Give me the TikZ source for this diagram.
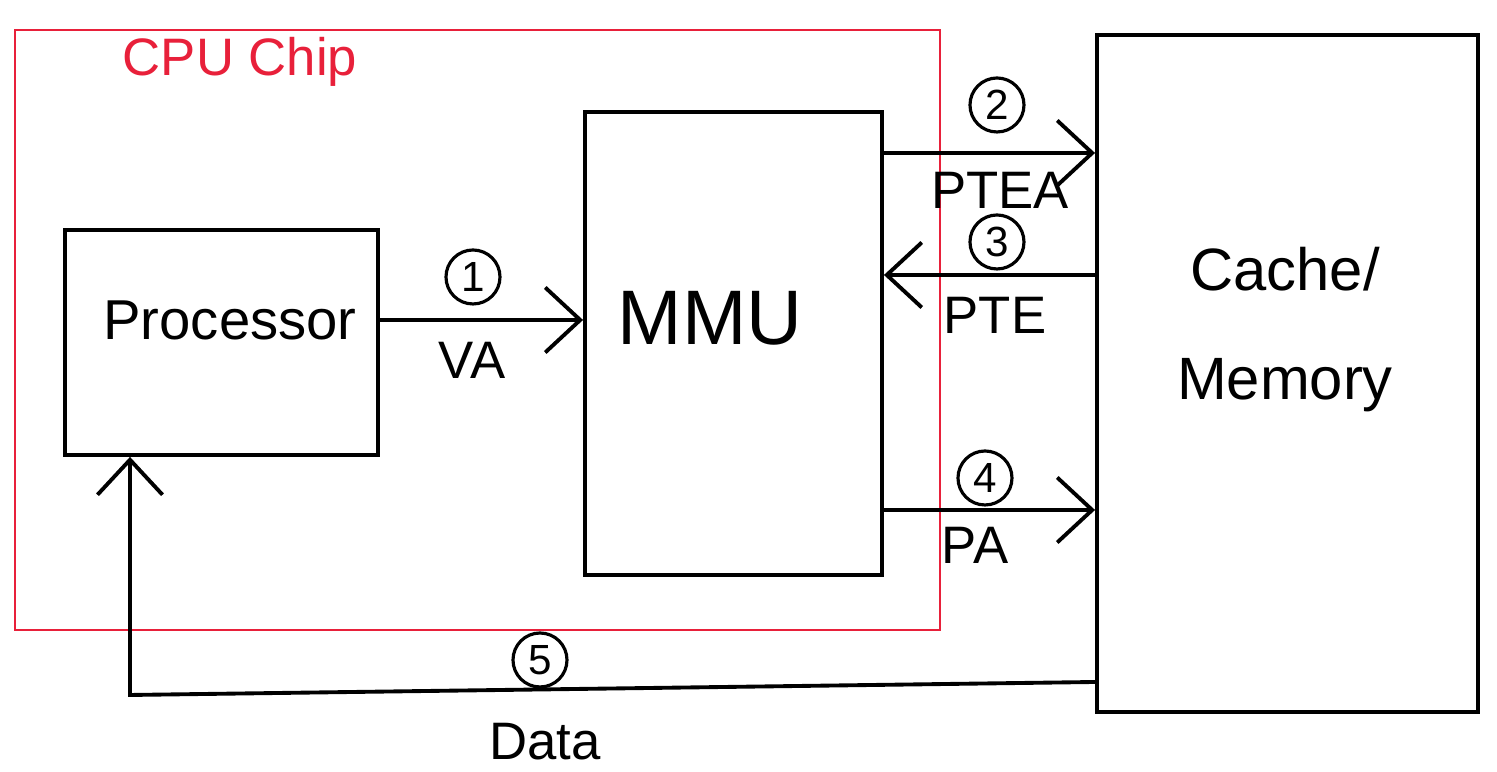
\documentclass[tikz,border=0pt]{standalone}
\usepackage{fontspec}
\setmainfont{Liberation Sans}
\usepackage{tikz}
\usetikzlibrary{arrows.meta}
\definecolor{chipred}{HTML}{E8203A}
\tikzset{
  box/.style={draw=black, line width=1.1pt, fill=none, inner sep=0pt}, % unit box
  chipbox/.style={draw=chipred, line width=0.8pt, inner sep=0pt},     % chip outline
  flow/.style={draw=black, line width=1.1pt, -{Straight Barb[length=3.5mm,width=6.5mm]}}, % data path
  num/.style={circle, draw=black, line width=0.9pt, minimum size=5.4mm,
              inner sep=0pt, font=\fontsize{12}{14}\selectfont},
  lbl/.style={font=\fontsize{15}{18}\selectfont, inner sep=1pt},
}

\begin{document}
\begin{tikzpicture}
  \useasboundingbox (0,0) rectangle (14.97,-7.72);
  % boxes
  \node[chipbox, minimum width=9.25cm, minimum height=6.0cm] (chip) at (4.775,-3.30) {};
  \node[text=chipred, font=\fontsize{15}{18}\selectfont] (chiplbl) at (2.40,-0.62) {CPU Chip};
  \node[box, minimum width=3.13cm, minimum height=2.25cm] (proc) at (2.215,-3.425) {};
  \node[font=\fontsize{16}{18}\selectfont] (proclbl) at (2.30,-3.20) {Processor};
  \node[box, minimum width=2.97cm, minimum height=4.63cm] (mmu) at (7.335,-3.435) {};
  \node[font=\fontsize{22}{24}\selectfont] (mmulbl) at (7.10,-3.18) {MMU};
  \node[box, minimum width=3.81cm, minimum height=6.77cm] (mem) at (12.875,-3.735) {};
  \node[align=center, font=\fontsize{17}{31}\selectfont] (memlbl) at (12.85,-3.30) {Cache/\\Memory};

  % levels of the connectors
  \coordinate (y1) at (0,-3.20);
  \coordinate (y2) at (0,-1.53);
  \coordinate (y3) at (0,-2.75);
  \coordinate (y4) at (0,-5.10);
  \coordinate (y5) at (0,-6.82);
  \coordinate (bend) at (1.30,-6.95);

  % connectors
  \draw[flow] (proc.east |- y1) -- (mmu.west |- y1);
  \draw[flow] (mmu.east |- y2) -- (mem.west |- y2);
  \draw[flow] (mem.west |- y3) -- (mmu.east |- y3);
  \draw[flow] (mmu.east |- y4) -- (mem.west |- y4);
  \draw[flow] (mem.west |- y5) -- (bend) -- (proc.south -| bend);

  % step numbers and labels
  \node[num] (n1) at (4.73,-2.77) {1};
  \node[lbl] (va) at (4.72,-3.60) {VA};
  \node[num] (n2) at (9.97,-1.05) {2};
  \node[lbl] (ptea) at (10.00,-1.90) {PTEA};
  \node[num] (n3) at (9.97,-2.42) {3};
  \node[lbl] (pte) at (9.95,-3.15) {PTE};
  \node[num] (n4) at (9.85,-4.78) {4};
  \node[lbl] (pa) at (9.75,-5.45) {PA};
  \node[num] (n5) at (5.40,-6.60) {5};
  \node[lbl] (data) at (5.45,-7.42) {Data};
\end{tikzpicture}
\end{document}
